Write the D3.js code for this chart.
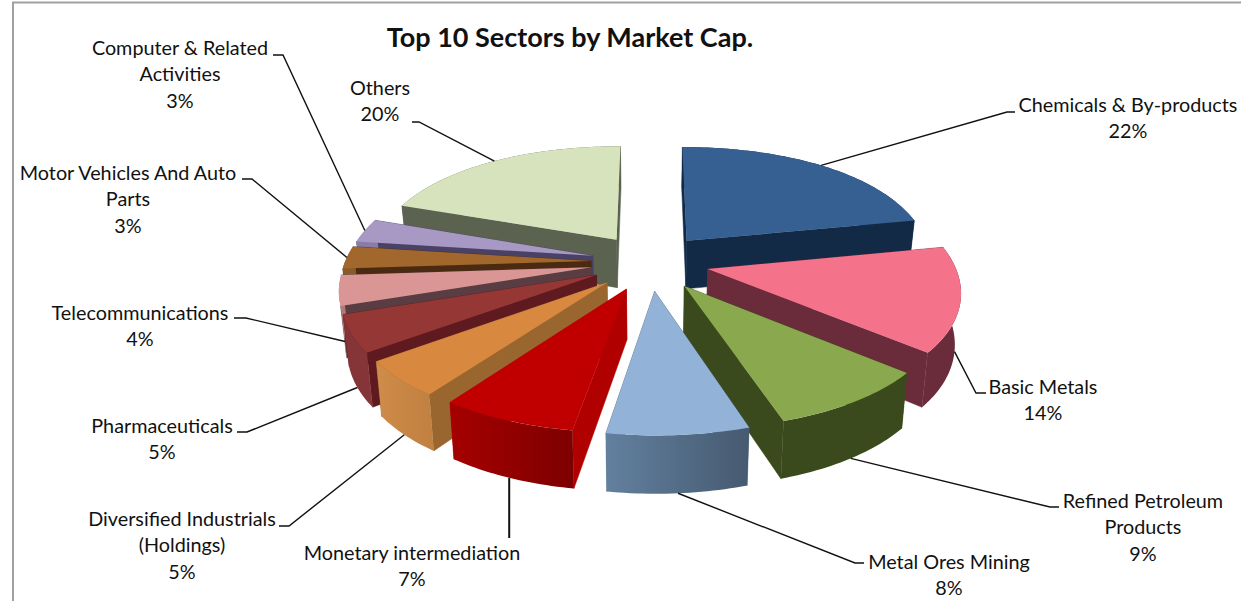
<!DOCTYPE html>
<html>
<head>
<meta charset="utf-8">
<script src="https://cdn.jsdelivr.net/npm/d3@7"></script>
<style>
  html, body { margin: 0; padding: 0; background: #fff; overflow: hidden; }
  text { font-family: Lato, "Open Sans", sans-serif; fill: #111; }
</style>
</head>
<body>
<svg id="chart" width="1241" height="601"></svg>
<script>
const sectors = [
  "Chemicals & By-products", "Basic Metals", "Refined Petroleum Products",
  "Metal Ores Mining", "Monetary intermediation", "Diversified Industrials (Holdings)",
  "Pharmaceuticals", "Telecommunications", "Motor Vehicles And Auto Parts",
  "Computer & Related Activities", "Others",
];
// labels show whole percents, the wedges are read a bit finer
const shares = [22, 14, 9, 7.6, 7.4, 5, 5, 4, 3, 3.2, 19.8];

// how each label wraps, the percent goes under it
const labelLines = [
  ["Chemicals & By-products"], ["Basic Metals"], ["Refined Petroleum", "Products"],
  ["Metal Ores Mining"], ["Monetary intermediation"], ["Diversified Industrials", "(Holdings)"],
  ["Pharmaceuticals"], ["Telecommunications"], ["Motor Vehicles And Auto", "Parts"],
  ["Computer & Related", "Activities"], ["Others"],
];

const topColors = ["#376092", "#f4728a", "#8aa84e", "#93b2d8", "#c00000", "#d9883f", "#953735", "#d99694", "#a2672d", "#a899c4", "#d6e3bc"];
const wallColors = ["#132a47", "#6a2c3a", "#3a4a1c", "#4f6781", "#b00000", "#9a6630", "#5e1a1f", "#5a3d42", "#4a2a10", "#4a4266", "#5b6350"];
const rimLeft = ["#132a47", "#6a2c3a", "#3a4a1c", "#62809f", "#a60000", "#cf8c4a", "#853537", "#b07a78", "#8a5a28", "#8a7ca8", "#5b6350"];
const rimRight = ["#132a47", "#6a2c3a", "#3a4a1c", "#465a70", "#7d0000", "#c08040", "#853537", "#b07a78", "#8a5a28", "#8a7ca8", "#5b6350"];

// text centre, first line centre, leader start and elbow
const labelBoxes = [
  { x: 1128, y: 105, gx: 1015, gy: 112, ex: 1007 },
  { x: 1043, y: 387, gx: 986, gy: 393, ex: 976 },
  { x: 1143, y: 501, gx: 1059, gy: 507, ex: 1050 },
  { x: 949, y: 562, gx: 864, gy: 563, ex: 855 },
  { x: 412, y: 553, gy: 538, straight: true },
  { x: 182, y: 519, gx: 279, gy: 526, ex: 289 },
  { x: 162, y: 426, gx: 237, gy: 432, ex: 247 },
  { x: 140, y: 313, gx: 234, gy: 318, ex: 246 },
  { x: 128, y: 173, gx: 242, gy: 179, ex: 252 },
  { x: 180, y: 48, gx: 273, gy: 55, ex: 283 },
  { x: 380, y: 88, gx: 412, gy: 122, ex: 419 },
];

const cx = 650, cy = 262;
const radiusX = 255, radiusY = 118;
const explode = 0.24, perspY = 0.15;
const drop = d3.scaleLinear().domain([0, 1]).range([49.4, 56.6]);

const svg = d3.select("#chart");
const defs = svg.append("defs");

// frame of the pasted chart: only left and top edges show
svg.append("path")
  .attr("d", d3.line()([[13, 601], [13, 2.5], [1241, 2.5]]))
  .attr("fill", "none").attr("stroke", "#a0a0a0").attr("stroke-width", 2);

const slices = d3.pie().sort(null)(shares).map((s, i) => ({
  ...s,
  index: i,
  mid: (s.startAngle + s.endAngle) / 2,
}));

function project(slice, angle, rho, lower) {
  const gx = explode * Math.sin(slice.mid) + rho * Math.sin(angle);
  const gy = -explode * Math.cos(slice.mid) - rho * Math.cos(angle);
  const sx = 0.965 + 0.151 * gy + 0.031 * gy * gy;
  const sy = 1 + perspY * gy;
  const x = gx * radiusX * sx;
  const y = gy * radiusY * sy;
  if (!lower) return [cx + x, cy + y];
  return [cx + x * 0.98, cy + y + drop(gy)];
}

const line = d3.line();

function arcAngles(slice) {
  const n = Math.max(6, Math.ceil((slice.endAngle - slice.startAngle) / 0.02));
  return d3.range(n + 1).map((k) => slice.startAngle + (slice.endAngle - slice.startAngle) * k / n);
}

function radialWall(slice, angle) {
  return line([
    project(slice, angle, 0, false), project(slice, angle, 1, false),
    project(slice, angle, 1, true), project(slice, angle, 0, true),
  ]) + "Z";
}

// back slices first, the front ones paint over them
const order = slices.slice().sort((a, b) => d3.ascending(-Math.cos(a.mid), -Math.cos(b.mid)));

const pie = svg.append("g");
order.forEach((slice) => {
  const i = slice.index;
  const g = pie.append("g").attr("class", "slice");

  [slice.startAngle, slice.endAngle].forEach((angle) => {
    g.append("path").attr("d", radialWall(slice, angle))
      .attr("fill", wallColors[i]).attr("stroke", wallColors[i]).attr("stroke-width", 0.5);
  });

  const grad = defs.append("linearGradient").attr("id", `rim-${i}`);
  grad.append("stop").attr("offset", "0%").attr("stop-color", rimLeft[i]);
  grad.append("stop").attr("offset", "100%").attr("stop-color", rimRight[i]);

  const angles = arcAngles(slice);
  const rim = angles.map((a) => project(slice, a, 1, false))
    .concat(angles.slice().reverse().map((a) => project(slice, a, 1, true)));
  g.append("path").attr("d", line(rim) + "Z").attr("fill", `url(#rim-${i})`);

  const face = [project(slice, 0, 0, false)].concat(angles.map((a) => project(slice, a, 1, false)));
  g.append("path").attr("d", line(face) + "Z").attr("fill", topColors[i]);
});

// leaders end on the outer edge at the slice's middle angle
const leaders = svg.append("g").attr("fill", "none").attr("stroke", "#111").attr("stroke-width", 1.4);
slices.forEach((slice, i) => {
  const box = labelBoxes[i];
  const lower = -Math.cos(slice.mid) > 0.1;
  const end = project(slice, slice.mid, 1, lower);
  if (box.straight) {
    leaders.append("path").attr("d", line([[end[0], box.gy], end])).attr("stroke-width", 2);
  } else {
    leaders.append("path").attr("d", line([[box.gx, box.gy], [box.ex, box.gy], end]));
  }
});

const labels = svg.append("g").attr("font-size", 19.8).attr("text-anchor", "middle");
slices.forEach((slice, i) => {
  const box = labelBoxes[i];
  const rows = labelLines[i].concat([Math.round(shares[i]) + "%"]);
  rows.forEach((row, k) => {
    labels.append("text")
      .attr("x", box.x)
      .attr("y", box.y + k * 26.3)
      .attr("dy", "0.35em")
      .text(row);
  });
});

svg.append("text")
  .attr("x", 570).attr("y", 38)
  .attr("text-anchor", "middle")
  .attr("dy", "0.35em")
  .attr("font-size", 27)
  .attr("font-weight", 700)
  .text("Top 10 Sectors by Market Cap.");
</script>
</body>
</html>
